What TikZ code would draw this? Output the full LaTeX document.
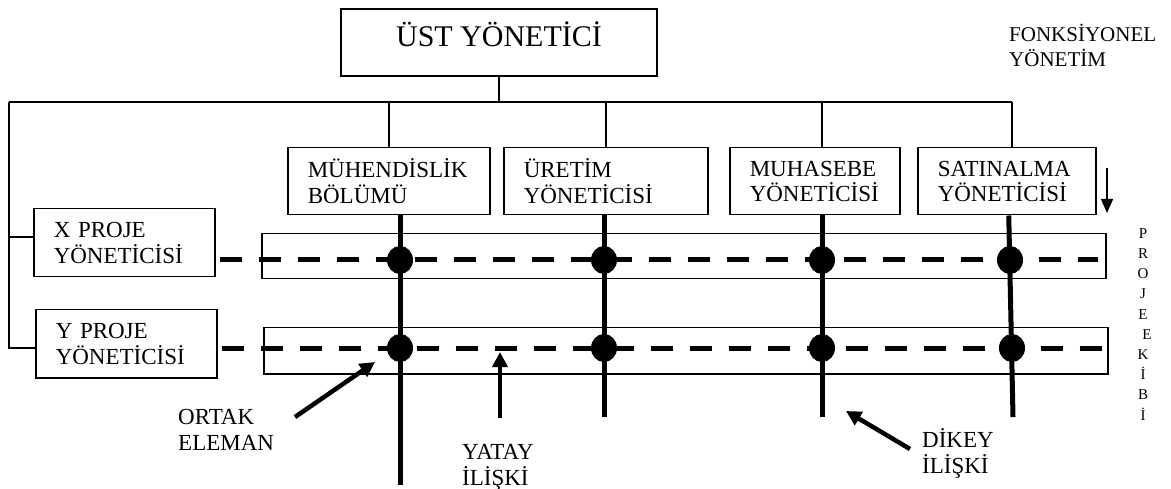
\documentclass[tikz,border=0pt]{standalone}
\usepackage{fontspec}
\setmainfont{Liberation Serif}
\usetikzlibrary{arrows.meta,shapes.geometric}
\begin{document}
\begin{tikzpicture}[x=1pt,y=-1pt,
  conn/.style={line width=1.5pt},
  box/.style={draw,line width=1.5pt,rectangle,anchor=north west,inner xsep=20pt,inner ysep=0pt,
    minimum height=67pt,align=left,font=\fontsize{23}{25.5}\selectfont},
  band/.style={draw,line width=1.5pt,rectangle,anchor=north west,inner sep=0pt},
  vline/.style={line width=5pt},
  dline/.style={line width=5pt,dash pattern=on 22pt off 17pt},
  dot/.style={ellipse,fill=black,minimum width=26pt,minimum height=28pt,inner sep=0pt},
  lbl/.style={anchor=base west,inner sep=0pt,align=left,font=\fontsize{23}{25.5}\selectfont},
  arr/.style={line width=4.5pt,-{Triangle[length=15pt,width=15pt]}}
]
\useasboundingbox (0,0) rectangle (1171,489);

% top manager
\node[draw,line width=1.5pt,minimum width=316pt,minimum height=67pt,
      text height=14pt,text depth=5pt,font=\fontsize{30}{34}\selectfont] (top) at (499,42.5) {ÜST YÖNETİCİ};
% multi-line labels are placed by the baseline of their last line
\node[lbl,font=\fontsize{21}{25.5}\selectfont] (fonk) at (1009,67) {FONKSİYONEL\\YÖNETİM};

% functional managers
\node[box,text width=162pt] (muh) at (287,147) {MÜHENDİSLİK\\BÖLÜMÜ};
\node[box,text width=164pt] (ure) at (503,147) {ÜRETİM\\YÖNETİCİSİ};
\node[box,text width=130pt] (mhs) at (729,147) {MUHASEBE\\YÖNETİCİSİ};
\node[box,text width=138pt] (sat) at (917,147) {SATINALMA\\YÖNETİCİSİ};

% project managers
\node[box,text width=141pt,minimum height=68pt] (xpm) at (33,208) {X PROJE\\YÖNETİCİSİ};
\node[box,text width=141pt,minimum height=68pt] (ypm) at (35,309) {Y PROJE\\YÖNETİCİSİ};

% project bands
\node[band,minimum width=844pt,minimum height=45pt] (xband) at (261,233) {};
\node[band,minimum width=844pt,minimum height=46pt] (yband) at (263,327) {};

% hierarchy lines
\coordinate (busL) at (9,102);
\coordinate (busR) at (1012,102);
\coordinate (xj) at (9,237);
\coordinate (yj) at (9,348);
\draw[conn] (top.south) -- (top.south |- busL);
\draw[conn] (busL) -- (busR);
\draw[conn] (busL) -- (yj) -- (yj -| ypm.west);
\draw[conn] (xj) -- (xj -| xpm.west);

% crossing points of the two matrices
\coordinate (cx1) at (400,260);
\coordinate (cx2) at (604,260);
\coordinate (cx3) at (822,260);
\coordinate (cx4) at (1010,260);
\coordinate (cy1) at (400,348);
\coordinate (cy2) at (604,348);
\coordinate (cy3) at (822,348);
\coordinate (cy4) at (1012,348);

% vertical relations (end points)
\coordinate (e1) at (400,485);
\coordinate (e2) at (604,417);
\coordinate (e3) at (822,417);
\coordinate (e4) at (1013,417);

\draw[conn] (muh.north |- busL) -- (muh.north);
\draw[conn] (ure.north |- busL) -- (ure.north);
\draw[conn] (e3 |- busL) -- (e3 |- mhs.north);
\draw[conn] (busR) -- (busR |- sat.north);

% horizontal (dashed) relations
\draw[dline,shorten <=4pt,shorten >=9pt] (xpm.east |- cx1) -- (xband.east |- cx1);
\draw[dline,shorten <=4pt] (ypm.east |- cy1) -- (yband.east |- cy1);

% vertical (thick) relations
\draw[vline] (muh.south -| e1) -- (e1);
\draw[vline] (ure.south -| e2) -- (e2);
\draw[vline] (mhs.south -| e3) -- (e3);
\draw[vline] ([xshift=2pt]sat.south) -- (e4);

% dots on top
\node[dot] (dx1) at (cx1) {};
\node[dot] (dx2) at (cx2) {};
\node[dot] (dx3) at (cx3) {};
\node[dot] (dx4) at (cx4) {};
\node[dot] (dy1) at (cy1) {};
\node[dot] (dy2) at (cy2) {};
\node[dot] (dy3) at (cy3) {};
\node[dot] (dy4) at (cy4) {};

% arrow beside the functional side
\coordinate (fa1) at (1107,168);
\coordinate (fa2) at (1107,213);
\draw[conn,-{Triangle[length=14pt,width=12pt]}] (fa1) -- (fa2);

% project team label
\node[anchor=base,inner sep=0pt,align=center,font=\fontsize{15}{20.2}\selectfont] (ekip) at (1143,420)
  {P\\R\\O\\J\\E\\\kern8pt E\\K\\İ\\B\\İ};

% annotations
\node[lbl] (ortak) at (178,450) {ORTAK\\ELEMAN};
\coordinate (oa1) at (295,417);
\coordinate (oa2) at (375,362);
\draw[arr] (oa1) -- (oa2);

\node[lbl] (yatay) at (462,485) {YATAY\\İLİŞKİ};
\coordinate (ya1) at (500,418);
\coordinate (ya2) at (500,352);
\draw[arr] (ya1) -- (ya2);

\node[lbl] (dikey) at (922,473) {DİKEY\\İLİŞKİ};
\coordinate (da1) at (910,449);
\coordinate (da2) at (846,411);
\draw[arr] (da1) -- (da2);
\end{tikzpicture}
\end{document}
